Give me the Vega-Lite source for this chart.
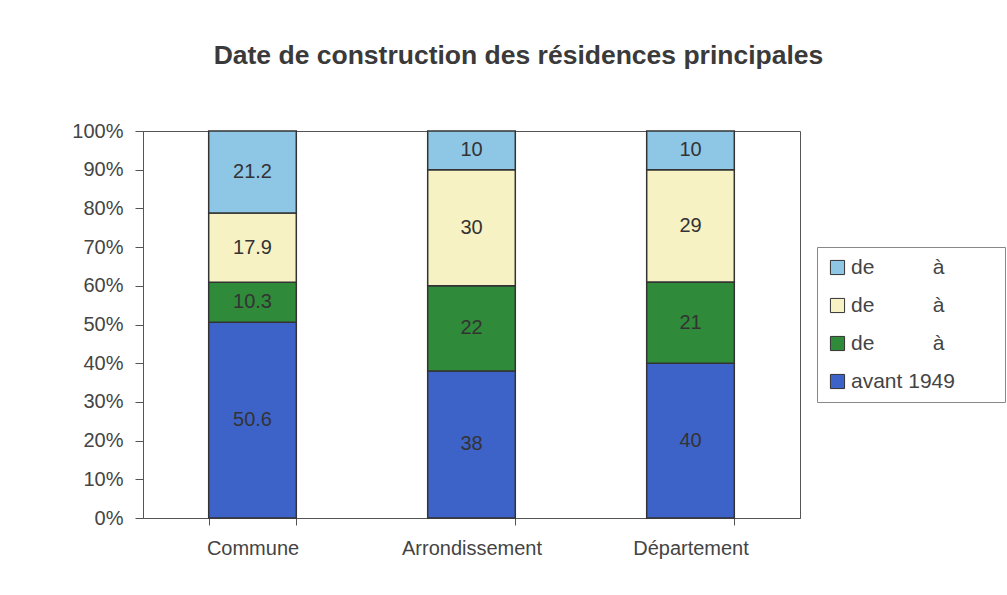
{
  "$schema": "https://vega.github.io/schema/vega-lite/v6.json",
  "autosize": {"type": "none"},
  "width": 657,
  "height": 387,
  "padding": {"left": 143, "top": 131, "right": 207, "bottom": 77},
  "background": "white",
  "title": {
    "text": "Date de construction des résidences principales",
    "font": "Liberation Sans",
    "fontSize": 26.5,
    "fontWeight": "bold",
    "color": "#3a3a3a",
    "anchor": "middle",
    "dx": 47,
    "offset": 52
  },
  "data": {
    "values": [
      {"zone": "Commune", "serie": "s1", "ordre": 1, "valeur": 50.6, "etiquette": "50.6"},
      {"zone": "Commune", "serie": "s2", "ordre": 2, "valeur": 10.3, "etiquette": "10.3"},
      {"zone": "Commune", "serie": "s3", "ordre": 3, "valeur": 17.9, "etiquette": "17.9"},
      {"zone": "Commune", "serie": "s4", "ordre": 4, "valeur": 21.2, "etiquette": "21.2"},
      {"zone": "Arrondissement", "serie": "s1", "ordre": 1, "valeur": 38, "etiquette": "38"},
      {"zone": "Arrondissement", "serie": "s2", "ordre": 2, "valeur": 22, "etiquette": "22"},
      {"zone": "Arrondissement", "serie": "s3", "ordre": 3, "valeur": 30, "etiquette": "30"},
      {"zone": "Arrondissement", "serie": "s4", "ordre": 4, "valeur": 10, "etiquette": "10"},
      {"zone": "Département", "serie": "s1", "ordre": 1, "valeur": 40, "etiquette": "40"},
      {"zone": "Département", "serie": "s2", "ordre": 2, "valeur": 21, "etiquette": "21"},
      {"zone": "Département", "serie": "s3", "ordre": 3, "valeur": 29, "etiquette": "29"},
      {"zone": "Département", "serie": "s4", "ordre": 4, "valeur": 10, "etiquette": "10"}
    ]
  },
  "transform": [
    {"stack": "valeur", "groupby": ["zone"], "sort": [{"field": "ordre", "order": "ascending"}], "offset": "normalize", "as": ["y0", "y1"]},
    {"calculate": "(datum.y0 + datum.y1) / 2", "as": "ymid"}
  ],
  "encoding": {
    "x": {
      "field": "zone",
      "type": "nominal",
      "sort": ["Commune", "Arrondissement", "Département"],
      "scale": {"paddingInner": 0.6, "paddingOuter": 0.3},
      "axis": {
        "title": null,
        "labelAngle": 0,
        "tickBand": "extent",
        "domainColor": "#555",
        "tickColor": "#555",
        "tickSize": 7,
        "labelPadding": 13,
        "labelFont": "Liberation Sans",
        "labelFontSize": 20,
        "labelColor": "#444"
      }
    }
  },
  "layer": [
    {
      "mark": {"type": "bar", "stroke": "#333", "strokeWidth": 1.5},
      "encoding": {
        "y": {
          "field": "y0",
          "type": "quantitative",
          "scale": {"domain": [0, 1]},
          "axis": {
            "title": null,
            "format": "%",
            "values": [0, 0.1, 0.2, 0.3, 0.4, 0.5, 0.6, 0.7, 0.8, 0.9, 1],
            "labelOverlap": false,
            "grid": false,
            "domainColor": "#555",
            "tickColor": "#555",
            "tickSize": 8,
            "labelPadding": 12,
            "labelFont": "Liberation Sans",
            "labelFontSize": 20,
            "labelColor": "#444"
          }
        },
        "y2": {"field": "y1"},
        "color": {
          "field": "serie",
          "type": "nominal",
          "scale": {
            "domain": ["s4", "s3", "s2", "s1"],
            "range": ["#8ec6e6", "#f6f2c4", "#2f8a3a", "#3d63c8"]
          },
          "legend": {
            "title": null,
            "orient": "none",
            "legendX": 674,
            "legendY": 116,
            "symbolType": "square",
            "symbolSize": 200,
            "symbolStrokeColor": "#333",
            "symbolStrokeWidth": 1,
            "symbolOpacity": 1,
            "labelFont": "Liberation Sans",
            "labelFontSize": 21,
            "labelColor": "#444",
            "labelOffset": 3,
            "labelLimit": 400,
            "rowPadding": 16,
            "padding": 10,
            "strokeColor": "#888",
            "fillColor": "white",
            "labelExpr": "datum.value == 's1' ? 'avant 1949' : 'de\u00a0\u00a0\u00a0\u00a0\u00a0\u00a0\u00a0\u00a0\u00a0\u00a0à\u00a0\u00a0\u00a0\u00a0\u00a0\u00a0\u2800'"
          }
        }
      }
    },
    {
      "mark": {"type": "text", "font": "Liberation Sans", "fontSize": 20, "color": "#333", "baseline": "middle"},
      "encoding": {
        "y": {
          "field": "ymid",
          "type": "quantitative",
          "axis": {
            "title": null,
            "format": "%",
            "values": [0, 0.1, 0.2, 0.3, 0.4, 0.5, 0.6, 0.7, 0.8, 0.9, 1],
            "labelOverlap": false,
            "grid": false,
            "domainColor": "#555",
            "tickColor": "#555",
            "tickSize": 8,
            "labelPadding": 12,
            "labelFont": "Liberation Sans",
            "labelFontSize": 20,
            "labelColor": "#444"
          }
        },
        "text": {"field": "etiquette", "type": "nominal"}
      }
    }
  ],
  "config": {
    "view": {"stroke": "#555", "strokeWidth": 1}
  }
}
